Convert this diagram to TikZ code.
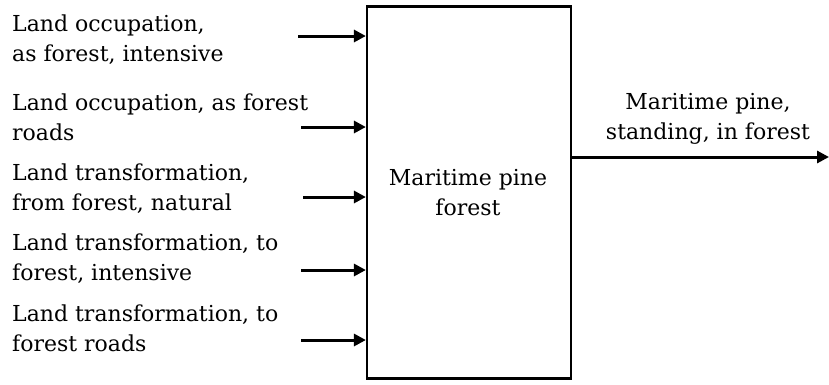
\documentclass[tikz,border=0pt]{standalone}
\usepackage{fontspec}
\setmainfont{DejaVu Serif}
\usetikzlibrary{arrows.meta}
\begin{document}
\begin{tikzpicture}[x=1pt,y=-1pt,
  txt/.style={inner sep=0pt,font=\fontsize{22}{30}\selectfont},
  lbl/.style={txt,anchor=north west,align=left},
  flow/.style={line width=3pt,-{Triangle[length=12pt,width=12pt]}},
  process/.style={draw,line width=2.2pt,inner sep=0pt}]
  \useasboundingbox (0,0) rectangle (829,384);
  % process box
  \node[process,minimum width=204pt,minimum height=372pt] (box) at (469,192.5) {};
  \node[txt,align=center] (boxtxt) at (468,193) {Maritime pine\\forest};
  % input labels
  \node[lbl] (l1) at (12,15) {Land occupation,\\as forest, intensive};
  \node[lbl] (l2) at (12,94) {Land occupation, as forest\\roads};
  \node[lbl] (l3) at (12,164) {Land transformation,\\from forest, natural};
  \node[lbl] (l4) at (12,234) {Land transformation, to\\forest, intensive};
  \node[lbl] (l5) at (12,305) {Land transformation, to\\forest roads};
  % input arrow tails
  \coordinate (a1) at (298,36);
  \coordinate (a2) at (301,127);
  \coordinate (a3) at (303,197);
  \coordinate (a4) at (301,270);
  \coordinate (a5) at (301,340);
  \foreach \i in {1,...,5} \draw[flow] (a\i) -- (box.west |- a\i);
  % output
  \coordinate (o) at (829,157);
  \draw[flow] (box.east |- o) -- (o);
  \node[txt,align=center] (otxt) at (708,119) {Maritime pine,\\standing, in forest};
\end{tikzpicture}
\end{document}
